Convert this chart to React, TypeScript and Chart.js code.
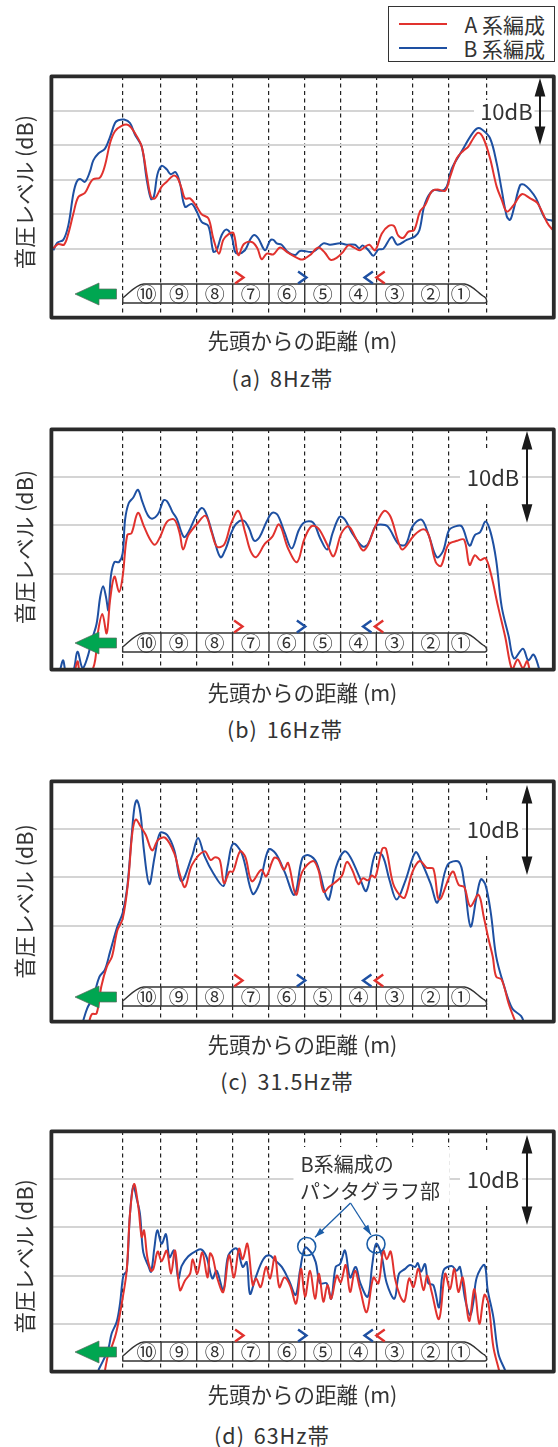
import React, { useEffect, useRef } from "react";
import { Chart, registerables } from "chart.js";

Chart.register(...registerables);

type Pt = [number, number];

// distance from the train head (m), sound pressure level (dB)
const a8Hz: Pt[] = [[-48.4,60.1],[-44.9,60.7],[-41,60.6],[-38,62.2],[-34.5,65.1],[-31.1,67.5],[-26.5,68.1],[-23,69.5],[-20.7,70.1],[-16.1,70.3],[-12.6,72.1],[-9.1,75.3],[-5.7,77],[-1.1,77.8],[3.6,77.9],[8.2,76.7],[12.8,74.8],[16.3,70.7],[19.3,67.5],[22,67.3],[26.6,69],[30.1,69.7],[34.7,70.6],[37.5,70.3],[40.5,68.7],[42.8,67.3],[46.3,67.3],[50.9,66.1],[54.3,65],[59,64.4],[62.4,61.5],[66.3,59.3],[69.3,61.3],[72.8,62.1],[76.3,62.3],[79.7,59.1],[83.6,60.7],[89,61],[92.9,60.1],[95.9,58.5],[99.4,59.3],[104,59.2],[108.6,60.2],[113.7,59.5],[122.4,58.5],[124.8,58.5],[129.4,59.1],[135.1,60.2],[139.8,59.4],[143.7,58.4],[147.8,58.7],[152.4,59.6],[155.9,60.5],[160.5,60.1],[164,59.8],[167.4,60.3],[170.5,60.6],[174.4,59.8],[179,62.2],[183.6,63.3],[187.5,63.3],[190.5,61.9],[194,61.6],[197.5,62.5],[201.4,62.7],[205.5,65.4],[209,66.3],[213.6,68.3],[217.5,68.6],[222.9,68.4],[226.3,70.4],[231,73.1],[235.5,74.2],[239,74.8],[242.5,76],[245.9,76.8],[249.4,76],[254,73.1],[258.6,69],[262.1,67.1],[265.6,65.4],[270.2,66.3],[276,67.9],[281.8,67.3],[286.9,66.6],[293.3,63.9],[296.7,62.9],[299.7,62.5]];
const b8Hz: Pt[] = [[-48.4,59.8],[-45.6,60.9],[-41.5,61.3],[-38,63.4],[-34.5,68],[-32.2,69.7],[-29.9,70.1],[-26.5,69.7],[-23,71.2],[-20.7,72.8],[-17.2,73.8],[-12.6,74.5],[-9.1,76.2],[-5.7,78.2],[-3.4,78.6],[0.6,78.7],[4.7,78.2],[8.2,76.5],[12.8,74.8],[16.3,70],[19.3,67.2],[21.3,67.6],[23.6,70.7],[26.6,72],[30.1,71.5],[32.9,70.8],[36.3,71.1],[39.3,69.5],[42.8,66.1],[47.4,66.5],[50.9,65.4],[54.3,63.9],[59,63.3],[62.4,59.6],[64.7,59.8],[68.2,62],[71.6,62.8],[75.1,61.8],[77.4,59.6],[79.7,59.3],[84.3,59.8],[87.8,61.3],[90.6,62],[93.6,61.5],[98.2,59.8],[101.7,61.2],[104,61.3],[106.3,60.8],[109.7,60.6],[113.7,59.6],[119,59.1],[122.4,59.7],[131.7,59.6],[138.6,60.8],[143.2,60.6],[150.1,60.8],[154.8,60.6],[160.5,60.6],[163.5,60.1],[165.8,60.5],[169.8,59.8],[173.2,59],[176.7,59.9],[180.1,60],[185.9,61.7],[189.9,60.6],[196.3,61.3],[202.1,61.8],[205.1,62.7],[209,66.6],[214.8,68.5],[220.5,68.4],[224,69],[227.5,71.6],[235.5,74.5],[240.2,76.2],[244.8,77.4],[248.2,77.3],[254,76],[258.6,72.4],[262.1,68.5],[265.6,64.7],[267.9,64.2],[270.2,65.6],[274.8,69.2],[277.6,69.3],[281.8,68.5],[285.9,67.3],[292.1,64.4],[296.7,64.1],[299.7,63.7]];
const a16Hz: Pt[] = [[-34.6,48.6],[-31.4,50.9],[-28.9,49.5],[-20.5,50.2],[-17.3,53.8],[-14.1,55.8],[-11.1,53.8],[-8.7,57.3],[-5.7,59.7],[-2.5,58.1],[0,59.7],[3.2,64],[6.2,64.2],[10.6,66.3],[14.8,64.9],[18.5,63.7],[22.3,63],[26,63.8],[30.9,65.4],[35.9,65.6],[39.6,64.2],[42,62.5],[45.7,64],[51.9,65.2],[57.6,66],[61.8,64.3],[65.5,62.8],[70.5,63],[75.4,65.2],[80.4,66.5],[85.3,64.2],[89,62.3],[92.7,61.7],[98.9,63.1],[103.9,63.8],[108.8,65.1],[115,62.6],[121.2,61.2],[126.1,63.5],[131.1,64.9],[136,64.7],[142.2,63],[146.6,61.8],[152.1,64.2],[157,64.9],[162,63.7],[166.9,62.4],[170.6,63],[175.6,64.9],[181.8,66.5],[186.2,65.9],[191.6,63.3],[194.6,62.5],[202.8,64],[209,64.6],[212.7,64],[217.6,61.2],[221.3,60.8],[226.3,63],[232.4,63.4],[237.4,63.5],[241.1,60.9],[244.8,61.9],[248.5,61.4],[252.2,61.6],[255.9,60],[260.9,56.6],[265.8,53.5],[270.8,50],[274.5,51.1],[278.2,50.2],[281.2,50.9],[284.4,48.6]];
const b16Hz: Pt[] = [[-45.7,48.6],[-43.3,50.1],[-41.3,51],[-39.3,49.8],[-34.6,49.8],[-31.4,51.9],[-27.9,50.2],[-24.7,51.2],[-21,53.3],[-18.1,54.8],[-15.6,57.6],[-13.6,58.7],[-11.6,57.6],[-9.9,56.2],[-8.2,59.7],[-5.7,61.2],[-2.5,61.2],[0,62.1],[1.7,65.6],[4.2,67.3],[7.4,67.9],[10.6,68.7],[13.6,67.5],[17.3,66.1],[20.5,65.7],[24.7,66.2],[28.4,67.6],[30.9,67.5],[34.6,66.4],[37.6,65.7],[42.5,63.8],[45.7,64.3],[50.7,65.9],[54.9,66.8],[58.1,66.2],[63.1,63.8],[68,61.7],[71.7,62.6],[75.4,64.2],[79.1,65.2],[84.1,65.5],[87.8,64.7],[91.5,63.4],[95.2,63.8],[100.1,65.4],[103.9,66.3],[107.6,66.1],[112.5,64.3],[117.5,62.6],[122.4,64.5],[126.1,65.3],[132.3,65.3],[137.2,63.7],[142.2,62.5],[145.9,64.2],[150.8,65.9],[154.5,65.6],[159.5,64.2],[166.9,62.8],[170.6,63.1],[175.6,64.9],[179.3,65.1],[184.2,64.9],[191.6,63.1],[196.6,63],[201.5,64.9],[207.7,65.6],[212.7,64],[218.3,61.7],[222.6,62.3],[226.8,64.5],[231.2,64.9],[235.7,64.9],[241.1,62.9],[244.8,64],[248.5,64.3],[252.2,65.4],[255.9,64.2],[259.6,61.4],[263.4,56.6],[268.3,53.5],[272,51.2],[278.2,52.2],[281.9,51],[285.6,51.6],[289.3,50.2],[291.8,48.6]];
const a31Hz: Pt[] = [[-23.5,49.9],[-21.5,50.8],[-18.1,50.9],[-14.8,53.7],[-11.1,55.7],[-7.4,56.8],[-3.7,59.5],[0,60.7],[3.7,64.4],[6.7,69.6],[9.1,71],[12.4,70.3],[16.1,69.4],[20.5,67.8],[24.7,68.9],[29.7,69.1],[35.9,67.5],[39.6,65.4],[43.3,64],[48.2,66.3],[56.9,67.7],[61.1,66.8],[64.3,67.1],[67.5,66.8],[70.5,64.4],[74.2,65.6],[76.7,65.6],[81.6,67.7],[85.3,67.1],[89.8,64.6],[96.4,65.8],[99.7,65.1],[105.1,67],[108.1,66.9],[112,65.8],[115,66.5],[120.4,63.2],[124.9,65.6],[132.3,66.7],[136,65.8],[139.7,63.5],[143.4,64],[152.1,65.1],[155.8,66.6],[159.5,65.8],[163.9,64.3],[166.9,64.9],[170.6,64.7],[173.1,65.2],[175.6,65],[180.5,68],[183,68],[187.9,64.4],[192.9,63.1],[196.1,62.9],[201.5,65.6],[206.5,66.7],[211.4,66],[215.9,65.9],[220.1,62.7],[229.2,65.6],[233.7,64.2],[237.4,64],[241.6,62],[247.3,63.2],[251,60.9],[254,58.8],[257.2,56.8],[259.6,54.7],[263.4,54.4],[268.3,51.9],[272,50.4],[274.5,49.5]];
const b31Hz: Pt[] = [[-27.9,49.9],[-24.7,51.4],[-20.5,52.6],[-16.1,54.7],[-12.4,55.4],[-8.7,57.3],[-3.7,59.9],[0,61.3],[3.2,64],[6.2,69.2],[8.2,72.3],[9.9,73],[12.4,71.6],[14.8,67.8],[18.5,64.3],[22.3,67.2],[26,69.6],[30.9,69.4],[35.9,67.8],[40.8,64.6],[48.2,67.2],[52.4,69.1],[56.9,67.2],[63.1,65.4],[70,64.1],[72.9,66.1],[76.7,68.5],[82.8,67.5],[90.3,63.3],[95.2,64.4],[101.4,67.9],[106.3,67.5],[112.5,65.6],[119.4,63.2],[124.9,67],[129.3,67.3],[134.8,66.5],[141,63.2],[143.4,62.7],[148.4,66.1],[154.1,67.7],[158.3,67.1],[164.4,65.1],[169.4,63.6],[175.6,67.5],[180.5,67.3],[185.5,64.7],[190.4,62.7],[196.6,64.7],[203.5,67.6],[207.7,66.6],[213.9,64.4],[218.8,62.4],[225.8,66.3],[233.7,66.6],[237.4,64.4],[241.8,59.9],[246,63],[249,64.8],[252.2,64.2],[255.9,61.3],[259.6,56.8],[264.6,54],[270.8,51.4],[277,50.6],[279.4,49.7]];
const a63Hz: Pt[] = [[-12.6,50.2],[-10.3,51.9],[-8,52.6],[-4.5,54.3],[0.1,58.1],[2.4,60.5],[4.7,66.4],[7.5,69.5],[10.5,67.1],[12.8,64],[14.4,64.7],[16.7,61.9],[19.3,60.5],[20.9,60.7],[23.9,62.5],[26.6,61.5],[30.1,62.6],[33.1,60.2],[35.9,62.6],[39.3,58.5],[42.8,59.5],[46.3,60.2],[48.1,61.7],[51.3,60.2],[54.8,62.4],[58.3,59.8],[60.1,62.3],[62,61.9],[65.2,59.7],[69.3,58.3],[73.3,62.1],[76.7,59.8],[80.2,62.8],[82.7,61.7],[86,63.3],[89.7,59],[92,59.7],[95.2,58.8],[98.9,60.9],[101.7,59.7],[105.1,62],[108.1,58.8],[111.6,59.8],[115.5,59],[119.7,57.1],[123.1,60.7],[125.9,57.8],[129.4,60.5],[132.8,57.6],[135.6,60.2],[138.6,57.3],[141.4,59],[144,57.6],[147.9,60],[150.6,59.3],[154.1,61.1],[157.1,58.3],[160.5,60.5],[164,58.6],[168.6,56.2],[173.2,59.8],[176.7,59.2],[180.1,62.6],[182.5,61.7],[185.2,62.5],[188.2,59.7],[191.7,57.9],[194.7,57.3],[198,59.7],[201,58.8],[204.4,60.7],[207.9,58.5],[210.6,60],[213.6,58.3],[218.7,55.5],[222.9,60.2],[226.3,58.6],[229.3,60.7],[232.1,58.3],[235.1,59.8],[239.5,55.3],[243.2,58.6],[246.6,55],[250.1,58],[252.9,57.1],[256.3,52.6],[260.2,50.2],[262.1,49.1]];
const b63Hz: Pt[] = [[-17.2,50.2],[-13.8,51.2],[-10.3,52.4],[-8,54],[-4.5,55.2],[-2.2,57.1],[0.1,60],[2.4,60.5],[4.7,66.4],[7,69.3],[9.3,68],[11.6,66.4],[13.9,62.4],[17.4,61],[19.3,60.4],[21.6,62.9],[23.6,64.7],[26.6,63.3],[29.6,64.3],[32,61.9],[35.2,62.6],[38.2,59.7],[40.5,61],[45.1,62],[50.9,62.6],[54.3,62.7],[57.8,61.9],[61.7,59.7],[64.7,60.5],[69.3,58.5],[72.8,62.1],[78.6,62.8],[82.7,60.9],[85.5,61.4],[87.8,58.1],[91.7,59.8],[97,61.7],[101.2,62.1],[105.1,61.6],[109.8,60.9],[114.8,59.5],[119.4,58],[122.4,60.5],[125.9,62.9],[130.1,62.4],[133.3,61.4],[136.3,59.2],[140.9,59.2],[144,57.6],[147.1,60.9],[150.1,61.2],[153.6,62.6],[157.1,59.8],[161,60.9],[164,59.3],[169.3,57.8],[172.5,61.2],[175.1,63.3],[178.6,62.3],[182.5,59.2],[187.8,57.6],[191,60.2],[195.2,60.7],[198.6,61.1],[202.1,60.9],[204,61.3],[206.2,60.4],[209,61.2],[211.3,59.2],[214.8,59],[218.7,56.7],[221.7,60.5],[227.5,61],[230.9,60.5],[233.2,60.9],[236.7,57.6],[240.2,55.9],[242.5,57.3],[244.8,59.8],[250.1,61.1],[252.4,58.5],[256.3,55.7],[259.8,51.9],[264.4,50.2],[266.7,49.5]];

// train geometry along the distance axis (m)
const boundariesWide = [-0.3, 26.2, 50.9, 75.8, 101, 125.7, 150.6, 175.3, 200.5, 225.1, 251.7];
const boundariesNarrow = [0, 26.6, 51.4, 76.4, 101.7, 126.5, 151.5, 176.3, 201.6, 226.3, 253];
const carLabels = ["⑩", "⑨", "⑧", "⑦", "⑥", "⑤", "④", "③", "②", "①"];
const pantographs = [
  { m: 80.4, dir: 1, series: "A" },
  { m: 124, dir: 1, series: "B" },
  { m: 170, dir: -1, series: "B" },
  { m: 178.2, dir: -1, series: "A" },
];

const RED = "#e1322e";
const BLUE = "#1e50a2";
const INK = "#2a2a2a";
const FONT = '"Noto Sans CJK JP", "Noto Sans", sans-serif';

interface Panel {
  a: Pt[]; b: Pt[]; caption: string; captionX: number; captionY: number;
  top: number; bottom: number; yMin: number; yMax: number; grid: number[];
  xMin: number; xMax: number; bounds: number[]; yTitle: string;
  trainTop: number; arrowX: number; arrowTop: number; arrowBottom: number;
  dbX: number; dbY: number; dbBox: [number, number, number, number];
  note?: boolean;
}

const Y_TITLE = "音圧レベル (dB)";
const panels: Panel[] = [
  { a: a8Hz, b: b8Hz, caption: "(a) 8Hz帯", captionX: 282.5, captionY: 378, top: 76, bottom: 318, yMin: 50, yMax: 85, grid: [60, 65, 70, 75, 80], xMin: -50, xMax: 298.3, bounds: boundariesWide, yTitle: "\u00a0\u00a0" + Y_TITLE, trainTop: 284, arrowX: 540, arrowTop: 78, arrowBottom: 145, dbX: 506.4, dbY: 111, dbBox: [474, 100, 60.5, 23] },
  { a: a16Hz, b: b16Hz, caption: "(b) 16Hz帯", captionX: 285, captionY: 729, top: 429, bottom: 670, yMin: 50, yMax: 75, grid: [60, 65, 70], xMin: -49.8, xMax: 299.8, bounds: boundariesNarrow, yTitle: "\u00a0" + Y_TITLE, trainTop: 633, arrowX: 527, arrowTop: 431, arrowBottom: 522.7, dbX: 493, dbY: 477, dbBox: [460, 450, 62, 53] },
  { a: a31Hz, b: b31Hz, caption: "(c) 31.5Hz帯", captionX: 287, captionY: 1081, top: 781, bottom: 1022, yMin: 50, yMax: 75, grid: [60, 65, 70], xMin: -49.8, xMax: 299.8, bounds: boundariesNarrow, yTitle: Y_TITLE, trainTop: 987, arrowX: 527, arrowTop: 785, arrowBottom: 875, dbX: 493, dbY: 829, dbBox: [460, 802, 62, 53] },
  { a: a63Hz, b: b63Hz, caption: "(d) 63Hz帯", captionX: 272, captionY: 1435, top: 1131, bottom: 1372, yMin: 50, yMax: 75, grid: [55, 60, 65, 70], xMin: -50, xMax: 298.3, bounds: boundariesWide, yTitle: Y_TITLE + "\u00a0\u00a0", trainTop: 1342, arrowX: 527, arrowTop: 1135, arrowBottom: 1225, dbX: 493, dbY: 1179, dbBox: [460, 1152, 62, 53], note: true },
];

const PAD_TOP = 8;
const X_AXIS_H = 38;
const toPts = (p: Pt[]) => p.map(([x, y]) => ({ x, y }));

function makeOverlay(p: Panel) {
  return {
    id: "overlay",
    afterDatasetsDraw(chart: any) {
      const { ctx, chartArea: ca, scales } = chart;
      const off = p.top - PAD_TOP;
      const X = (m: number) => scales.x.getPixelForValue(m);
      const bounds = p.bounds;
      ctx.save();
      ctx.lineJoin = "round";

      // white boxes that interrupt the grid
      ctx.fillStyle = "#fff";
      const [bx, by, bw, bh] = p.dbBox;
      ctx.fillRect(bx, by - off, bw, bh);
      if (p.note) ctx.fillRect(293.5, 1147 - off, 156, 57);

      // green travel arrow
      const ty = p.trainTop - off;
      const cy = ty + 10;
      ctx.beginPath();
      ctx.moveTo(75, cy);
      ctx.lineTo(99, cy - 11);
      ctx.lineTo(99, cy - 5);
      ctx.lineTo(116.5, cy - 5);
      ctx.lineTo(116.5, cy + 5);
      ctx.lineTo(99, cy + 5);
      ctx.lineTo(99, cy + 11);
      ctx.closePath();
      ctx.fillStyle = "#00a651";
      ctx.fill();
      ctx.strokeStyle = "#5a6a5f";
      ctx.lineWidth = 0.7;
      ctx.stroke();

      // train
      const h = 19;
      const x0 = X(bounds[0]);
      const xN = X(bounds[bounds.length - 1]);
      ctx.beginPath();
      ctx.moveTo(x0, ty + h);
      ctx.lineTo(x0, ty + 14);
      ctx.bezierCurveTo(x0 + 6, ty + 10, x0 + 12, ty + 1, x0 + 21, ty);
      ctx.lineTo(xN - 22, ty);
      ctx.bezierCurveTo(xN - 14, ty + 1, xN - 8, ty + 10, xN - 2, ty + 13);
      ctx.quadraticCurveTo(xN, ty + 14.5, xN, ty + 17);
      ctx.quadraticCurveTo(xN, ty + h, xN - 2, ty + h);
      ctx.closePath();
      ctx.fillStyle = "#fff";
      ctx.fill();
      ctx.strokeStyle = "#333";
      ctx.lineWidth = 1.4;
      ctx.stroke();
      ctx.beginPath();
      bounds.slice(1, -1).forEach((m) => {
        ctx.moveTo(X(m), ty);
        ctx.lineTo(X(m), ty + h);
      });
      ctx.stroke();
      ctx.fillStyle = "#333";
      ctx.font = `20px ${FONT}`;
      ctx.textAlign = "center";
      ctx.textBaseline = "middle";
      carLabels.forEach((t, i) => {
        const cx = i === 0 ? X(bounds[1]) - 14.5 : i === 9 ? X(bounds[9]) + 12.4 : (X(bounds[i]) + X(bounds[i + 1])) / 2;
        ctx.fillText(t, cx, ty + 10);
      });

      // pantograph chevrons
      pantographs.forEach((g) => {
        const cx = X(g.m);
        ctx.strokeStyle = g.series === "A" ? RED : BLUE;
        ctx.lineWidth = 2.4;
        ctx.lineJoin = "miter";
        ctx.beginPath();
        ctx.moveTo(cx - 4.2 * g.dir, ty - 12.5);
        ctx.lineTo(cx + 4.2 * g.dir, ty - 6.5);
        ctx.lineTo(cx - 4.2 * g.dir, ty - 0.5);
        ctx.stroke();
      });
      ctx.lineJoin = "round";

      // 10 dB scale arrow
      const ax = p.arrowX;
      const at = p.arrowTop - off;
      const ab = p.arrowBottom - off;
      ctx.strokeStyle = "#1a1a1a";
      ctx.fillStyle = "#1a1a1a";
      ctx.lineWidth = 2;
      ctx.beginPath();
      ctx.moveTo(ax, at + 5);
      ctx.lineTo(ax, ab - 5);
      ctx.stroke();
      ctx.beginPath();
      ctx.moveTo(ax, at);
      ctx.lineTo(ax + 5.4, at + 18.5);
      ctx.lineTo(ax - 5.4, at + 18.5);
      ctx.closePath();
      ctx.moveTo(ax, ab);
      ctx.lineTo(ax + 5.4, ab - 18.5);
      ctx.lineTo(ax - 5.4, ab - 18.5);
      ctx.closePath();
      ctx.fill();
      ctx.fillStyle = "#333";
      ctx.font = `22px ${FONT}`;
      ctx.textAlign = "center";
      ctx.fillText("10dB", p.dbX, p.dbY - off + 1);

      if (p.note) {
        ctx.font = `20px ${FONT}`;
        ctx.textAlign = "left";
        ctx.fillText("B系編成の", 300.5, 1164 - off);
        ctx.fillText("パンタグラフ部", 300, 1191 - off);
        ctx.strokeStyle = "#1c5ea8";
        ctx.fillStyle = "#1c5ea8";
        ctx.lineWidth = 1.3;
        const tips: Pt[] = [[315, 1237.3], [371, 1235]];
        tips.forEach(([tx, tyy]) => {
          const fx = 350.5;
          const fy = 1203;
          ctx.beginPath();
          ctx.moveTo(fx, fy - off);
          ctx.lineTo(tx, tyy - off);
          ctx.stroke();
          const ang = Math.atan2(tyy - fy, tx - fx);
          const l = 10;
          const w = 3.2;
          const bxx = tx - l * Math.cos(ang);
          const byy = tyy - l * Math.sin(ang);
          ctx.beginPath();
          ctx.moveTo(tx, tyy - off);
          ctx.lineTo(bxx - w * Math.sin(ang), byy + w * Math.cos(ang) - off);
          ctx.lineTo(bxx + w * Math.sin(ang), byy - w * Math.cos(ang) - off);
          ctx.closePath();
          ctx.fill();
        });
        ctx.lineWidth = 1.6;
        [[306.7, 1246.5], [376, 1244]].forEach(([cx, cyy]) => {
          ctx.beginPath();
          ctx.arc(cx, cyy - off, 9, 0, Math.PI * 2);
          ctx.stroke();
        });
      }

      // heavy frame
      ctx.strokeStyle = INK;
      ctx.lineWidth = 3.8;
      ctx.strokeRect(ca.left + 0.4, ca.top + 0.4, ca.right - ca.left - 0.6, ca.bottom - ca.top - 0.8);
      ctx.restore();
    },
  };
}

function PanelChart({ p }: { p: Panel }) {
  const ref = useRef<HTMLCanvasElement>(null);
  const height = PAD_TOP + (p.bottom - p.top) + X_AXIS_H;
  useEffect(() => {
    if (!ref.current) return;
    const chart = new Chart(ref.current, {
      type: "line",
      data: {
        datasets: [
          { label: "A 系編成", data: toPts(p.a), borderColor: RED, borderWidth: 2, tension: 0.35, pointRadius: 0 },
          { label: "B 系編成", data: toPts(p.b), borderColor: BLUE, borderWidth: 2, tension: 0.35, pointRadius: 0 },
        ],
      },
      options: {
        animation: false,
        responsive: false,
        devicePixelRatio: 1,
        layout: { padding: { top: PAD_TOP, left: 0, right: 4, bottom: 0 } },
        plugins: { legend: { display: false }, tooltip: { enabled: false }, title: { display: false } },
        scales: {
          x: {
            type: "linear", min: p.xMin, max: p.xMax,
            afterBuildTicks: (s: any) => { s.ticks = p.bounds.map((value) => ({ value })); },
            afterFit: (s: any) => { s.height = X_AXIS_H; },
            ticks: { display: false },
            grid: { color: "#222", lineWidth: 1.2, drawTicks: false },
            border: { display: false, dash: [4, 3.5] },
            title: { display: true, text: "先頭からの距離 (m)", color: "#333", font: { family: FONT, size: 21.5 }, padding: { top: 0, bottom: 2 } },
          },
          y: {
            min: p.yMin, max: p.yMax,
            afterBuildTicks: (s: any) => { s.ticks = p.grid.map((value) => ({ value })); },
            afterFit: (s: any) => { s.width = 51; },
            ticks: { display: false },
            grid: { color: "#d4d4d4", lineWidth: 2, drawTicks: false },
            border: { display: false },
            title: { display: true, text: p.yTitle, color: "#333", font: { family: FONT, size: 21.5 }, padding: { top: 12, bottom: 0 } },
          },
        },
      } as any,
      plugins: [makeOverlay(p)],
    });
    return () => chart.destroy();
  }, [p]);
  return (
    <>
      <canvas ref={ref} width={558} height={height} style={{ position: "absolute", left: 0, top: p.top - PAD_TOP, width: 558, height, display: "block" }} />
      <div style={{ position: "absolute", left: p.captionX - 100, width: 200, top: p.captionY - 14, height: 28, lineHeight: "28px", textAlign: "center", fontFamily: FONT, fontSize: 21.5, letterSpacing: 1, wordSpacing: 3, color: "#333", whiteSpace: "nowrap" }}>{p.caption}</div>
    </>
  );
}

function LegendRow({ color, text, y }: { color: string; text: string; y: number }) {
  return (
    <>
      <div style={{ position: "absolute", left: 10, top: y - 1, width: 48, height: 2, background: color }} />
      <div style={{ position: "absolute", right: 9, top: y - 14, height: 28, lineHeight: "28px", fontFamily: FONT, fontSize: 21, color: "#333", whiteSpace: "nowrap" }}>{text}</div>
    </>
  );
}

export default function App() {
  return (
    <div style={{ position: "absolute", left: 0, top: 0, width: 558, height: 1447, overflow: "hidden", background: "#fff" }}>
      {panels.map((p) => <PanelChart key={p.caption} p={p} />)}
      <div style={{ position: "absolute", left: 388, top: 5.5, width: 165, height: 54, border: "1.5px solid #333", background: "#fff" }}>
        <LegendRow color={RED} text="A 系編成" y={17.5} />
        <LegendRow color={BLUE} text="B 系編成" y={41.5} />
      </div>
    </div>
  );
}
